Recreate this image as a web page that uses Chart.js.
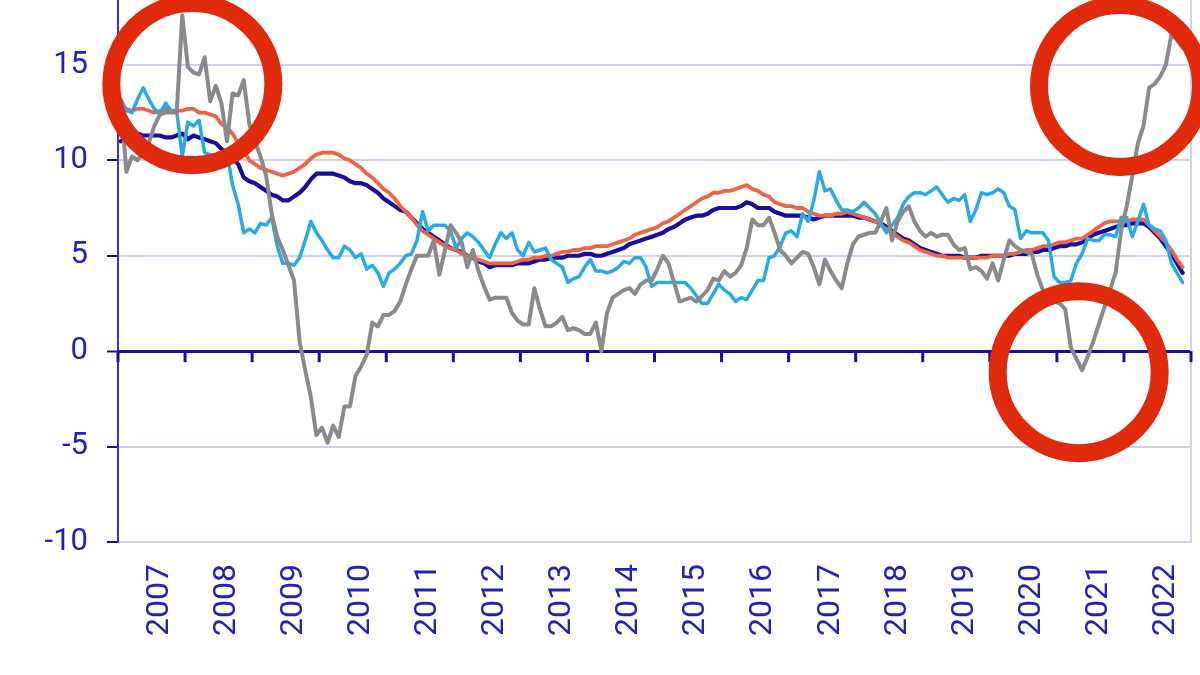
<!DOCTYPE html>
<html>
<head>
<meta charset="utf-8">
<script src="https://cdn.jsdelivr.net/npm/chart.js@4.4.0/dist/chart.umd.min.js"></script>
<style>
  html, body { margin: 0; padding: 0; background: #fff; }
  #forChart { width: 1200px; height: 675px; }
</style>
</head>
<body>
<div id="forChart"><canvas id="myChart" width="1200" height="675"></canvas></div>
<script>
// year labels, one per 12 months starting Jan 2007
const years = ['2007','2008','2009','2010','2011','2012','2013','2014','2015','2016','2017','2018','2019','2020','2021','2022'];

// monthly values, Jan 2007 .. Nov 2022
const greySeries = [
  13.1, 9.4, 10.2, 10.0, 10.4, 10.9, 11.8, 12.4, 12.5, 12.5, 12.5, 17.6,
  14.9, 14.6, 14.5, 15.4, 13.1, 13.9, 13.0, 11.0, 13.5, 13.4, 14.2, 11.9,
  11.0, 10.2, 9.2, 7.2, 6.0, 5.3, 4.5, 3.7, 0.5, -1.0, -2.4, -4.4,
  -4.0, -4.8, -3.9, -4.5, -2.9, -2.9, -1.3, -0.8, -0.2, 1.5, 1.3, 1.9,
  1.9, 2.1, 2.6, 3.5, 4.3, 5.0, 5.0, 5.0, 5.8, 4.0, 5.3, 6.6,
  6.2, 5.7, 4.4, 5.3, 4.2, 3.4, 2.7, 2.8, 2.8, 2.8, 2.0, 1.6,
  1.4, 1.4, 3.3, 2.2, 1.3, 1.3, 1.5, 1.8, 1.1, 1.2, 1.1, 0.9,
  0.9, 1.5, 0.0, 2.0, 2.8, 3.0, 3.2, 3.3, 3.0, 3.5, 3.7, 3.7,
  4.3, 5.0, 4.6, 3.6, 2.6, 2.7, 2.8, 2.6, 2.9, 3.2, 3.8, 3.7,
  4.2, 3.9, 4.1, 4.5, 5.4, 6.9, 6.6, 6.6, 7.0, 6.2, 5.3, 5.0,
  4.6, 4.9, 5.2, 5.1, 4.4, 3.5, 4.8, 4.2, 3.7, 3.3, 4.6, 5.6,
  6.0, 6.1, 6.2, 6.2, 6.8, 7.5, 5.8, 6.8, 7.3, 7.6, 6.8, 6.3,
  6.0, 6.2, 6.0, 6.1, 6.1, 5.6, 5.3, 5.4, 4.3, 4.4, 4.2, 3.8,
  4.6, 3.7, 4.8, 5.8, 5.5, 5.3, 5.2, 5.1, 4.0, 3.2, 2.7, 2.6,
  2.5, 2.2, 0.2, -0.4, -1.0, -0.3, 0.5, 1.4, 2.3, 3.2, 4.1, 6.3,
  7.6, 9.2, 10.9, 11.8, 13.8, 14.0, 14.4, 15.0, 16.6, 16.3, 15.9
];

const cyanSeries = [
  13.2, 12.6, 12.5, 13.2, 13.8, 13.2, 12.7, 12.4, 13.0, 12.6, 12.6, 10.2,
  12.0, 11.8, 12.1, 10.4, 10.3, 10.2, 10.3, 10.4, 8.7, 7.7, 6.2, 6.4,
  6.2, 6.7, 6.6, 7.0, 5.5, 4.6, 4.6, 4.5, 4.9, 5.8, 6.8, 6.2,
  5.8, 5.3, 4.9, 4.9, 5.5, 5.3, 4.9, 5.1, 4.3, 4.5, 4.1, 3.4,
  4.1, 4.3, 4.6, 5.0, 5.1, 5.8, 7.3, 6.3, 6.6, 6.6, 6.6, 6.3,
  5.4, 5.9, 6.2, 6.0, 5.7, 5.3, 4.9, 5.6, 6.2, 5.9, 6.2, 5.3,
  5.0, 5.7, 5.2, 5.3, 5.4, 4.8, 4.6, 4.4, 3.6, 3.8, 3.9, 4.4,
  4.8, 4.2, 4.2, 4.1, 4.2, 4.4, 4.7, 4.6, 4.9, 4.9, 4.4, 3.4,
  3.6, 3.6, 3.6, 3.6, 3.6, 3.6, 3.3, 2.9, 2.5, 2.5, 3.0, 3.5,
  3.2, 3.0, 2.6, 2.8, 2.7, 3.2, 3.7, 3.7, 4.9, 5.0, 5.5, 6.2,
  6.3, 6.0, 7.2, 6.8, 7.9, 9.4, 8.4, 8.5, 7.9, 7.4, 7.4, 7.3,
  7.5, 7.8, 7.5, 7.2, 6.7, 6.2, 6.6, 7.0, 7.7, 8.1, 8.3, 8.3,
  8.2, 8.4, 8.6, 8.2, 7.8, 8.0, 7.9, 8.2, 6.8, 7.4, 8.3, 8.2,
  8.3, 8.5, 8.3, 7.6, 7.4, 5.9, 6.3, 6.2, 6.2, 6.2, 5.8, 3.9,
  3.6, 3.6, 3.7, 4.6, 5.1, 5.9, 5.8, 5.8, 6.1, 6.1, 6.0, 7.0,
  7.0, 6.0, 6.8, 7.7, 6.6, 6.4, 6.3, 5.8, 4.6, 4.1, 3.6
];

const navySeries = [
  11.0, 11.2, 11.4, 11.4, 11.3, 11.3, 11.3, 11.3, 11.2, 11.2, 11.3, 11.4,
  11.1, 11.3, 11.2, 11.1, 11.0, 10.9, 10.6, 10.4, 10.1, 9.8, 9.1, 8.9,
  8.8, 8.6, 8.4, 8.2, 8.1, 7.9, 7.9, 8.1, 8.3, 8.6, 9.0, 9.3,
  9.3, 9.3, 9.3, 9.2, 9.1, 8.9, 8.8, 8.8, 8.7, 8.5, 8.3, 8.0,
  7.8, 7.6, 7.4, 7.3, 7.0, 6.7, 6.4, 6.2, 6.0, 5.8, 5.6, 5.4,
  5.3, 5.2, 5.0, 4.9, 4.7, 4.6, 4.4, 4.5, 4.5, 4.5, 4.5, 4.6,
  4.6, 4.6, 4.7, 4.8, 4.8, 4.9, 4.9, 4.9, 5.0, 5.0, 5.0, 5.1,
  5.1, 5.0, 5.0, 5.1, 5.2, 5.3, 5.4, 5.6, 5.7, 5.8, 5.9, 6.0,
  6.1, 6.2, 6.4, 6.5, 6.7, 6.9, 7.0, 7.1, 7.1, 7.2, 7.4, 7.5,
  7.5, 7.5, 7.5, 7.6, 7.8, 7.7, 7.5, 7.5, 7.5, 7.3, 7.2, 7.1,
  7.1, 7.1, 7.1, 7.0, 6.9, 7.0, 7.1, 7.1, 7.1, 7.1, 7.1, 7.1,
  7.0, 7.0, 6.9, 6.8, 6.7, 6.5, 6.3, 6.1, 5.9, 5.8, 5.6, 5.4,
  5.3, 5.2, 5.1, 5.0, 5.0, 5.0, 5.0, 4.9, 4.9, 4.9, 5.0, 5.0,
  5.0, 5.0, 5.0, 5.0, 5.1, 5.1, 5.1, 5.2, 5.2, 5.3, 5.3, 5.4,
  5.5, 5.5, 5.6, 5.6, 5.7, 5.9, 6.1, 6.2, 6.3, 6.4, 6.5, 6.6,
  6.6, 6.7, 6.7, 6.7, 6.5, 6.2, 5.9, 5.5, 5.1, 4.6, 4.1
];

const orangeSeries = [
  12.9, 12.7, 12.6, 12.7, 12.7, 12.6, 12.5, 12.6, 12.7, 12.6, 12.6, 12.6,
  12.7, 12.7, 12.5, 12.5, 12.4, 12.3, 11.9, 11.7, 11.4, 10.9, 10.5, 10.0,
  9.8, 9.6, 9.5, 9.4, 9.3, 9.2, 9.3, 9.4, 9.6, 9.8, 10.1, 10.3,
  10.4, 10.4, 10.4, 10.3, 10.1, 10.0, 9.8, 9.6, 9.3, 9.1, 8.8, 8.5,
  8.3, 8.0, 7.6, 7.3, 7.0, 6.6, 6.3, 6.1, 5.9, 5.7, 5.5, 5.4,
  5.3, 5.1, 5.0, 4.9, 4.8, 4.7, 4.6, 4.6, 4.6, 4.6, 4.6, 4.7,
  4.8, 4.8, 4.9, 4.9, 5.0, 5.0, 5.1, 5.2, 5.2, 5.3, 5.3, 5.4,
  5.4, 5.5, 5.5, 5.5, 5.6, 5.7, 5.8, 5.9, 6.1, 6.2, 6.3, 6.4,
  6.5, 6.7, 6.8, 7.0, 7.2, 7.4, 7.6, 7.8, 8.0, 8.1, 8.3, 8.3,
  8.4, 8.4, 8.5, 8.6, 8.7, 8.5, 8.4, 8.2, 8.1, 7.8, 7.7, 7.6,
  7.6, 7.5, 7.5, 7.3, 7.2, 7.1, 7.1, 7.1, 7.2, 7.2, 7.3, 7.2,
  7.1, 7.0, 6.9, 6.8, 6.6, 6.4, 6.2, 6.0, 5.8, 5.7, 5.5, 5.3,
  5.2, 5.1, 5.0, 5.0, 4.9, 4.9, 4.9, 4.9, 4.9, 4.9, 4.9, 4.9,
  5.0, 5.0, 5.0, 5.1, 5.1, 5.2, 5.3, 5.3, 5.4, 5.5, 5.5, 5.6,
  5.7, 5.7, 5.8, 5.9, 5.9, 6.1, 6.3, 6.5, 6.7, 6.8, 6.8, 6.8,
  6.8, 6.9, 6.9, 6.9, 6.6, 6.3, 6.0, 5.7, 5.3, 4.8, 4.4
];

// highlighted spots, [month, value] in chart units
const circleSpots = [[13.3, 14.0], [179.3, 13.9], [171.9, -1.1]];

const yTicks = [-10, -5, 0, 5, 10, 15];

const BLUE_TEXT = '#2420bc';
const NAVY = '#1a0c9e';
const LAVENDER = '#cfcff2';

function toPoints(arr) {
    return arr.map(function(v, i) { return { x: i + 0.5, y: v }; });
}

// tick marks hanging from the zero line, right frame, red rings
const decorPlugin = {
    id: 'decor',
    beforeDatasetsDraw: function(chart) {
        const ctx = chart.ctx;
        const xs = chart.scales.x;
        const ys = chart.scales.y;
        const area = chart.chartArea;
        ctx.save();
        ctx.strokeStyle = LAVENDER;
        ctx.lineWidth = 2;
        ctx.beginPath();
        ctx.moveTo(area.right, area.top);
        ctx.lineTo(area.right, area.bottom);
        ctx.stroke();

        const y0 = ys.getPixelForValue(0);
        ctx.strokeStyle = NAVY;
        ctx.lineWidth = 3;
        for (let m = 0; m <= years.length * 12; m += 12) {
            const px = xs.getPixelForValue(m);
            ctx.beginPath();
            ctx.moveTo(px, y0);
            ctx.lineTo(px, y0 + 11);
            ctx.stroke();
        }
        ctx.restore();
    },
    afterDatasetsDraw: function(chart) {
        const ctx = chart.ctx;
        const xs = chart.scales.x;
        const ys = chart.scales.y;
        ctx.save();
        ctx.strokeStyle = '#df2a0c';
        ctx.lineWidth = 18;
        circleSpots.forEach(function(c) {
            ctx.beginPath();
            ctx.arc(xs.getPixelForValue(c[0]), ys.getPixelForValue(c[1]), 81, 0, Math.PI * 2);
            ctx.stroke();
        });
        ctx.restore();
    }
};

window.onload = function() {
    const data = {
        datasets: [
            { label: 'grey', data: toPoints(greySeries), borderColor: '#8a8a8a', borderWidth: 4, order: 0 },
            { label: 'cyan', data: toPoints(cyanSeries), borderColor: '#2aaae2', borderWidth: 3.5, order: 1 },
            { label: 'orange', data: toPoints(orangeSeries), borderColor: '#ee6446', borderWidth: 3.8, order: 2 },
            { label: 'navy', data: toPoints(navySeries), borderColor: NAVY, borderWidth: 4.2, order: 3 }
        ]
    };

    const config = {
        type: 'line',
        data: data,
        plugins: [decorPlugin],
        options: {
            responsive: false,
            animation: false,
            events: [],
            layout: { padding: { top: 0, right: 9, left: 0, bottom: 0 } },
            elements: { point: { radius: 0 }, line: { tension: 0, borderJoinStyle: 'round', borderCapStyle: 'round' } },
            plugins: { legend: { display: false }, tooltip: { enabled: false } },
            scales: {
                x: {
                    type: 'linear',
                    min: 0,
                    max: years.length * 12,
                    afterBuildTicks: function(scale) {
                        scale.ticks = years.map(function(y, i) { return { value: i * 12 + 7.5 }; });
                    },
                    afterFit: function(scale) {
                        scale.height = 133;
                        scale.paddingLeft = 0;
                        scale.paddingRight = 0;
                    },
                    grid: { display: false, drawTicks: false },
                    border: { display: true, color: LAVENDER, width: 2 },
                    ticks: {
                        autoSkip: false,
                        minRotation: 90,
                        maxRotation: 90,
                        padding: 22,
                        color: BLUE_TEXT,
                        font: { family: 'Roboto', size: 32 },
                        callback: function(v) { return years[Math.round((v - 7.5) / 12)]; }
                    }
                },
                y: {
                    min: -10,
                    max: 18.4,
                    afterBuildTicks: function(scale) {
                        scale.ticks = yTicks.map(function(v) { return { value: v }; });
                    },
                    afterFit: function(scale) {
                        scale.width = 118;
                        scale.paddingTop = 0;
                        scale.paddingBottom = 0;
                    },
                    grid: {
                        color: function(c) { return c.tick && c.tick.value === 0 ? NAVY : LAVENDER; },
                        lineWidth: function(c) { return c.tick && c.tick.value === 0 ? 3 : 2; },
                        tickColor: NAVY,
                        tickLength: 11,
                        tickWidth: 2
                    },
                    border: { display: true, color: '#3434c8', width: 2 },
                    ticks: {
                        padding: 19,
                        color: BLUE_TEXT,
                        font: { family: 'Roboto', size: 31 }
                    }
                }
            }
        }
    };

    new Chart(document.getElementById('myChart'), config);
};
</script>
</body>
</html>
